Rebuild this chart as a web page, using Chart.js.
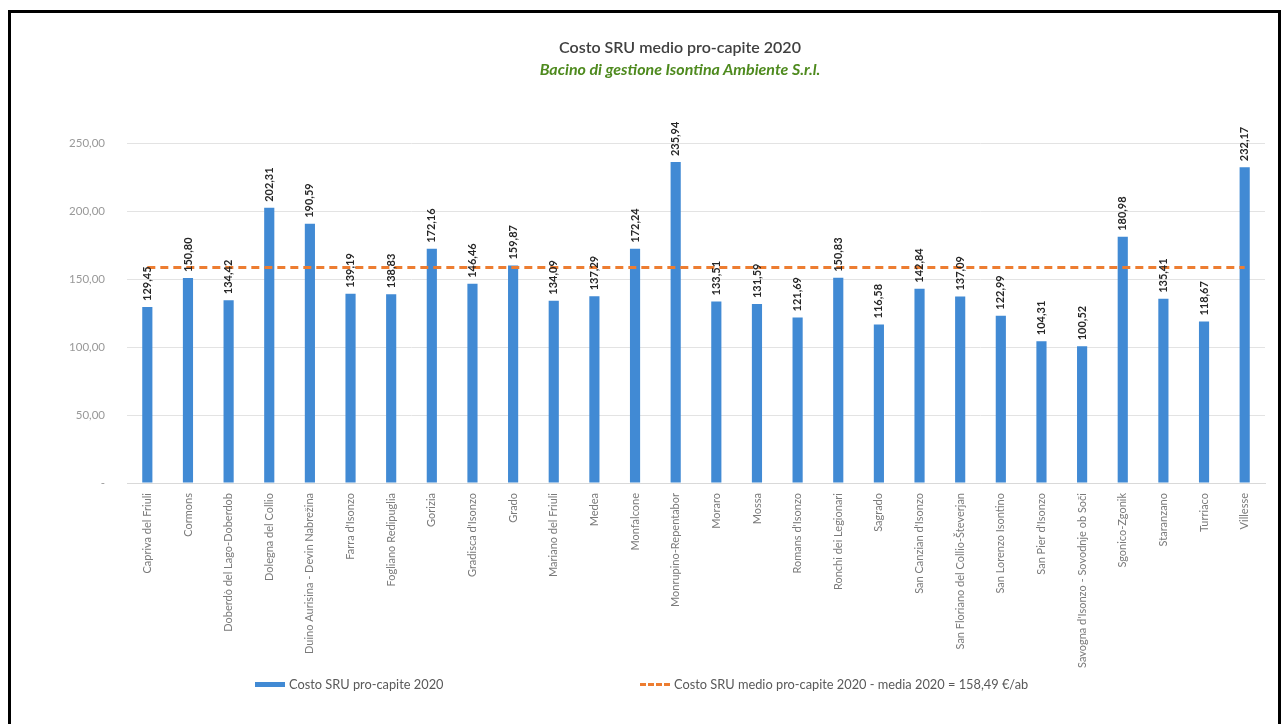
<!DOCTYPE html>
<html lang="it">
<head>
    <meta charset="UTF-8">
    <title>Costo SRU medio pro-capite 2020</title>
    <script src="https://cdn.jsdelivr.net/npm/chart.js"></script>
    <style>
        body { margin: 0; background: #fff; font-family: Lato, "Open Sans", sans-serif; }
        .page { position: relative; width: 1284px; height: 724px; overflow: hidden; }
        .frame { position: absolute; left: 8px; top: 10px; width: 1273px; height: 720px;
                 border: 3px solid #000; border-bottom: none; box-sizing: border-box; }
        .chart-box { position: absolute; left: 0; top: 0; width: 1284px; height: 724px; }
        .titles { position: absolute; left: 380px; width: 600px; text-align: center; top: 36px; }
        .titles .t1 { font-size: 16px; color: #404040; font-weight: 600; line-height: 22px; }
        .titles .t2 { font-size: 16px; color: #4e8a1e; font-weight: 700; font-style: italic; line-height: 22px; }
        .legend { position: absolute; top: 676px; left: 0; font-size: 12.8px; color: #595959; }
        .legend-item { position: absolute; white-space: nowrap; display: flex; align-items: center; }
        .sw-bar { display: inline-block; width: 30px; height: 5px; background: #418ad4; margin-right: 4px; }
        .sw-line { display: inline-block; width: 30px; height: 0; border-top: 3px dashed #ed7d31; margin-right: 4px; }
    </style>
</head>
<body>
<div class="page">
    <div class="chart-box"><canvas id="myChart"></canvas></div>
    <div class="titles">
        <div class="t1">Costo SRU medio pro-capite 2020</div>
        <div class="t2">Bacino di gestione Isontina Ambiente S.r.l.</div>
    </div>
    <div class="legend">
        <div class="legend-item" style="left: 255px;"><span class="sw-bar"></span>Costo SRU pro-capite 2020</div>
        <div class="legend-item" style="left: 640px;"><span class="sw-line"></span>Costo SRU medio pro-capite 2020 - media 2020 = 158,49 €/ab</div>
    </div>
    <div class="frame"></div>
</div>

<script>
    const comuni = [
        'Capriva del Friuli', 'Cormons', 'Doberdò del Lago-Doberdob', 'Dolegna del Collio',
        'Duino Aurisina - Devin Nabrežina', "Farra d'Isonzo", 'Fogliano Redipuglia', 'Gorizia',
        "Gradisca d'Isonzo", 'Grado', 'Mariano del Friuli', 'Medea', 'Monfalcone',
        'Monrupino-Repentabor', 'Moraro', 'Mossa', "Romans d'Isonzo", 'Ronchi dei Legionari',
        'Sagrado', "San Canzian d'Isonzo", 'San Floriano del Collio-Števerjan', 'San Lorenzo Isontino',
        "San Pier d'Isonzo", "Savogna d'Isonzo - Sovodnje ob Soči", 'Sgonico-Zgonik', 'Staranzano',
        'Turriaco', 'Villesse'
    ];
    const costoProCapite = [
        129.45, 150.80, 134.42, 202.31, 190.59, 139.19, 138.83, 172.16, 146.46, 159.87,
        134.09, 137.29, 172.24, 235.94, 133.51, 131.59, 121.69, 150.83, 116.58, 142.84,
        137.09, 122.99, 104.31, 100.52, 180.98, 135.41, 118.67, 232.17
    ];
    const mediaCosto = [
        158.49, 158.49, 158.49, 158.49, 158.49, 158.49, 158.49, 158.49, 158.49, 158.49,
        158.49, 158.49, 158.49, 158.49, 158.49, 158.49, 158.49, 158.49, 158.49, 158.49,
        158.49, 158.49, 158.49, 158.49, 158.49, 158.49, 158.49, 158.49
    ];
    const yTicks = [0, 50, 100, 150, 200, 250];

    function fmt(v) {
        return v.toFixed(2).replace('.', ',');
    }

    // etichette valori ruotate sopra le barre
    const barLabels = {
        id: 'barLabels',
        afterDatasetsDraw(chart) {
            const ctx = chart.ctx;
            const meta = chart.getDatasetMeta(0);
            ctx.save();
            ctx.font = 'bold 11px Lato, sans-serif';
            ctx.fillStyle = '#262626';
            ctx.textAlign = 'left';
            ctx.textBaseline = 'middle';
            meta.data.forEach((bar, i) => {
                ctx.save();
                ctx.translate(bar.x, bar.y - 6);
                ctx.rotate(-Math.PI / 2);
                ctx.fillText(fmt(costoProCapite[i]), 0, 0);
                ctx.restore();
            });
            ctx.restore();
        }
    };

    const ctx = document.getElementById('myChart').getContext('2d');
    new Chart(ctx, {
        data: {
            labels: comuni,
            datasets: [{
                type: 'bar',
                label: 'Costo SRU pro-capite 2020',
                data: costoProCapite,
                backgroundColor: '#418ad4',
                barPercentage: 0.25,
                categoryPercentage: 1,
                order: 2
            }, {
                type: 'line',
                label: 'Costo SRU medio pro-capite 2020 - media 2020 = 158,49 €/ab',
                data: mediaCosto,
                borderColor: '#ed7d31',
                borderWidth: 3,
                borderDash: [8, 5],
                pointRadius: 0,
                fill: false,
                order: 1
            }]
        },
        options: {
            responsive: true,
            maintainAspectRatio: false,
            animation: false,
            layout: { padding: { top: 143, right: 19, left: 0, bottom: 0 } },
            plugins: {
                legend: { display: false },
                tooltip: { enabled: false }
            },
            scales: {
                x: {
                    grid: { display: false },
                    border: { color: '#d9d9d9' },
                    ticks: {
                        minRotation: 90,
                        maxRotation: 90,
                        autoSkip: false,
                        padding: 2,
                        color: '#7a7a7a',
                        font: { family: 'Lato, sans-serif', size: 11 }
                    },
                    afterFit(scale) { scale.height = 241; }
                },
                y: {
                    min: 0,
                    max: 250,
                    afterBuildTicks(scale) { scale.ticks = yTicks.map(v => ({ value: v })); },
                    grid: { color: '#e3e3e3', drawTicks: false },
                    border: { display: false },
                    ticks: {
                        padding: 22,
                        color: '#999999',
                        font: { family: 'Lato, sans-serif', size: 11.5 },
                        callback: v => v === 0 ? '-' : fmt(v)
                    },
                    afterFit(scale) { scale.width = 127; }
                }
            }
        },
        plugins: [barLabels]
    });
</script>
</body>
</html>
